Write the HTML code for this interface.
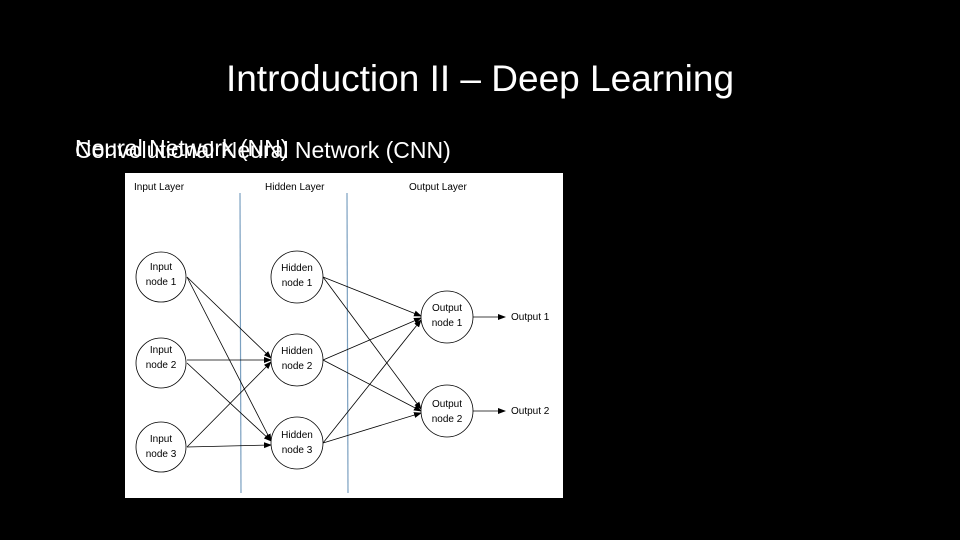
<!DOCTYPE html>
<html><head><meta charset="utf-8"><style>
body{margin:0;width:960px;height:540px;background:#000;overflow:hidden;position:relative;font-family:"Liberation Sans",sans-serif}
.t{position:absolute;color:#fff;white-space:nowrap}
</style></head><body>
<div class="t" style="left:0;width:960px;text-align:center;top:58px;font-size:37px;font-weight:300;letter-spacing:0px">Introduction II – Deep Learning</div>
<div class="t" style="left:75px;top:135px;font-size:23px">Neural Network (NN)</div>
<div class="t" style="left:75px;top:137px;font-size:23px">Convolutional Neural Network (CNN)</div>
<svg style="position:absolute;left:125px;top:173px" width="438" height="325" viewBox="125 173 438 325">
<defs><marker id="a" markerWidth="8" markerHeight="8" refX="7" refY="4" orient="auto" markerUnits="userSpaceOnUse"><path d="M0,1 L8,4 L0,7z" fill="#000"/></marker></defs>
<rect x="125" y="173" width="438" height="325" fill="#fff"/>
<line x1="240" y1="193" x2="241" y2="493" stroke="#7ba0c0" stroke-width="1.2"/>
<line x1="347" y1="193" x2="348" y2="493" stroke="#7ba0c0" stroke-width="1.2"/>
<g font-size="10" fill="#000" font-family="Liberation Sans,sans-serif">
<text x="134" y="190">Input Layer</text><text x="265" y="190">Hidden Layer</text><text x="409" y="190">Output Layer</text>
</g>
<g stroke="#000" stroke-width="0.8" fill="none" marker-end="url(#a)">
<line x1="187" y1="277" x2="271" y2="358"/><line x1="187" y1="277" x2="271" y2="441"/>
<line x1="187" y1="360" x2="271" y2="360"/><line x1="187" y1="363" x2="271" y2="441"/>
<line x1="187" y1="447" x2="271" y2="362"/><line x1="187" y1="447" x2="271" y2="445"/>
<line x1="323" y1="277" x2="421" y2="316"/><line x1="323" y1="277" x2="421" y2="409"/>
<line x1="323" y1="360" x2="421" y2="318"/><line x1="323" y1="360" x2="421" y2="411"/>
<line x1="323" y1="443" x2="421" y2="320"/><line x1="323" y1="443" x2="421" y2="413"/>
<line x1="473" y1="317" x2="505" y2="317"/><line x1="473" y1="411" x2="505" y2="411"/>
</g>
<g stroke="#000" stroke-width="0.8" fill="#fff">
<circle cx="161" cy="277" r="25"/><circle cx="161" cy="363" r="25"/><circle cx="161" cy="447" r="25"/>
<circle cx="297" cy="277" r="26"/><circle cx="297" cy="360" r="26"/><circle cx="297" cy="443" r="26"/>
<circle cx="447" cy="317" r="26"/><circle cx="447" cy="411" r="26"/>
</g>
<g font-size="10" fill="#000" text-anchor="middle" font-family="Liberation Sans,sans-serif">
<text x="161" y="270">Input</text><text x="161" y="285">node 1</text>
<text x="161" y="353">Input</text><text x="161" y="368">node 2</text>
<text x="161" y="442">Input</text><text x="161" y="457">node 3</text>
<text x="297" y="271">Hidden</text><text x="297" y="286">node 1</text>
<text x="297" y="354">Hidden</text><text x="297" y="369">node 2</text>
<text x="297" y="438">Hidden</text><text x="297" y="453">node 3</text>
<text x="447" y="311">Output</text><text x="447" y="326">node 1</text>
<text x="447" y="407">Output</text><text x="447" y="422">node 2</text>
</g>
<g font-size="10" fill="#000" font-family="Liberation Sans,sans-serif">
<text x="511" y="320">Output 1</text><text x="511" y="414">Output 2</text>
</g>
</svg>
</body></html>
